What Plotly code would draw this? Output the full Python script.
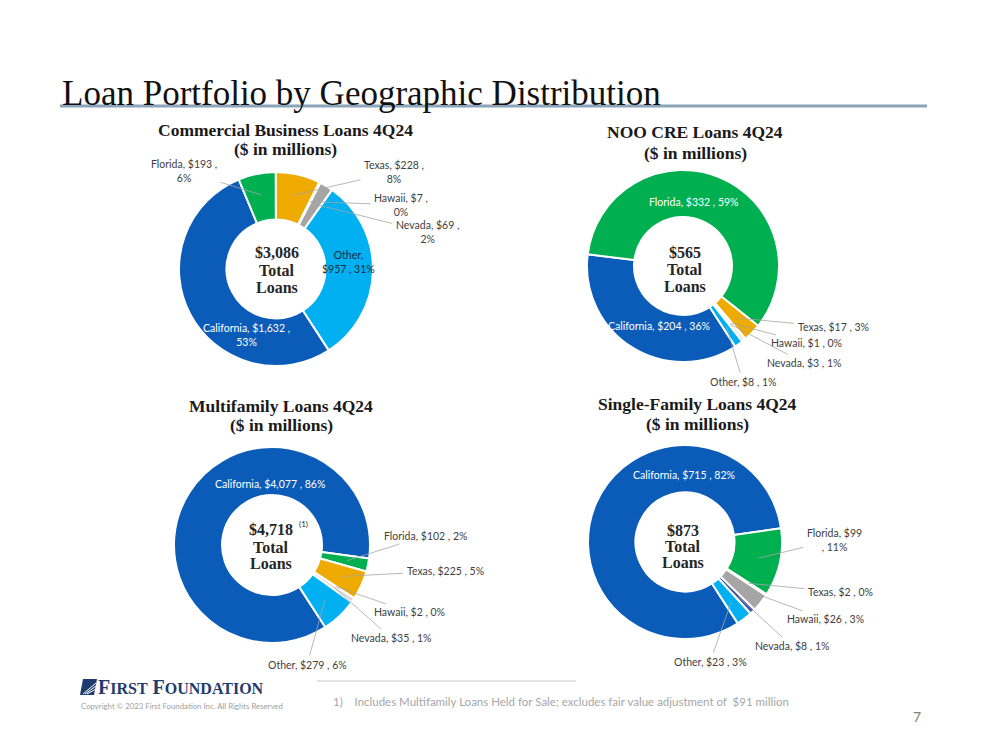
import math
import plotly.graph_objects as go

W, H = 999, 750

# ---------------- data ----------------
regions = ["California", "Florida", "Texas", "Hawaii", "Nevada", "Other"]

commercial_values = [1632, 193, 228, 7, 69, 957]
commercial_pcts = [53, 6, 8, 0, 2, 31]

noo_values = [204, 332, 17, 1, 3, 8]
noo_pcts = [36, 59, 3, 0, 1, 1]

multifamily_values = [4077, 102, 225, 2, 35, 279]
multifamily_pcts = [86, 2, 5, 0, 1, 6]

singlefamily_values = [715, 99, 2, 26, 8, 23]
singlefamily_pcts = [82, 11, 0, 3, 1, 3]

chart_totals = [3086, 565, 4718, 873]   # as reported (rounded components)

chart_titles = ["Commercial Business Loans 4Q24", "NOO CRE Loans 4Q24",
                "Multifamily Loans 4Q24", "Single-Family Loans 4Q24"]
subtitle = "($ in millions)"
page_title = "Loan Portfolio by Geographic Distribution"
footnote = "1)    Includes Multifamily Loans Held for Sale; excludes fair value adjustment of  $91 million"
copyright_text = "Copyright © 2023 First Foundation Inc. All Rights Reserved"
page_number = "7"

# ---------------- style ----------------
BASE_COLORS = {"California": "#0A5CB8", "Florida": "#00B050", "Texas": "#EFAA00",
               "Hawaii": "#A5A5A5", "Nevada": "#3A50A0", "Other": "#00B0F0"}
LABEL_FONT = "Lato"
SERIF = "Liberation Serif"
OUT_COLOR = "#404040"
LEADER = "#A6A6A6"
ROTATION = 147
HOLE = 0.51

charts = [
    dict(values=commercial_values, pcts=commercial_pcts, total=chart_totals[0], title=chart_titles[0],
         center=(276, 269), R=97, title_x=285, title_y=(130, 149),
         ctr_x=277, ctr_y=(253, 270, 287), sup=None,
         colors={"Hawaii": "#3A50A0", "Nevada": "#A5A5A5"},
         labels={"California": ("in", 246, 335, "pct", "white"),
                 "Florida": ("out", 184, 171, "pct", OUT_COLOR),
                 "Texas": ("out", 394, 172, "pct", OUT_COLOR),
                 "Hawaii": ("out", 401, 205, "pct", OUT_COLOR),
                 "Nevada": ("out", 427, 232, "pct", OUT_COLOR),
                 "Other": ("in", 348, 262, "name", "#1F2A44")}),
    dict(values=noo_values, pcts=noo_pcts, total=chart_totals[1], title=chart_titles[1],
         center=(683, 266), R=96, title_x=695, title_y=(132, 153),
         ctr_x=685, ctr_y=(252, 269, 286), sup=None,
         colors={"Nevada": "#D9D9D9"},
         labels={"California": ("in", 659, 326, "none", "white"),
                 "Florida": ("in", 694, 202, "none", "white"),
                 "Texas": ("out", 833, 327, "none", OUT_COLOR),
                 "Hawaii": ("out", 806, 343, "none", OUT_COLOR),
                 "Nevada": ("out", 804, 363, "none", OUT_COLOR),
                 "Other": ("out", 743, 382, "none", OUT_COLOR)}),
    dict(values=multifamily_values, pcts=multifamily_pcts, total=chart_totals[2], title=chart_titles[2],
         center=(272, 545), R=98, title_x=281, title_y=(406, 425),
         ctr_x=271, ctr_y=(529, 547, 563), sup=(303, 524),
         colors={"Nevada": "#D9D9D9"},
         labels={"California": ("in", 270, 484, "none", "white"),
                 "Florida": ("out", 425, 536, "none", OUT_COLOR),
                 "Texas": ("out", 445, 571, "none", OUT_COLOR),
                 "Hawaii": ("out", 409, 612, "none", OUT_COLOR),
                 "Nevada": ("out", 391, 638, "none", OUT_COLOR),
                 "Other": ("out", 307, 665, "none", OUT_COLOR)}),
    dict(values=singlefamily_values, pcts=singlefamily_pcts, total=chart_totals[3], title=chart_titles[3],
         center=(685, 542), R=97, title_x=697, title_y=(404, 424),
         ctr_x=683, ctr_y=(530, 546, 562), sup=None,
         colors={},
         labels={"California": ("in", 684, 475, "none", "white"),
                 "Florida": ("out", 834, 540, "value", OUT_COLOR),
                 "Texas": ("out", 840, 592, "none", OUT_COLOR),
                 "Hawaii": ("out", 825, 619, "none", OUT_COLOR),
                 "Nevada": ("out", 792, 646, "none", OUT_COLOR),
                 "Other": ("out", 710, 662, "none", OUT_COLOR)}),
]


def px(x):
    return x / W


def py(y):
    return 1 - y / H


def label_text(r, v, p, mode):
    if mode == "pct":
        return f"{r}, ${v:,} ,<br>{p}%"
    if mode == "name":
        return f"{r},<br>${v:,} , {p}%"
    if mode == "value":
        return f"{r}, ${v:,}<br>, {p}%"
    return f"{r}, ${v:,} , {p}%"


fig = go.Figure()
annotations = []
shapes = []

for ch in charts:
    cx, cy = ch["center"]
    R = ch["R"]
    cols = [ch["colors"].get(r, BASE_COLORS[r]) for r in regions]
    fig.add_trace(go.Pie(
        labels=regions, values=ch["values"], hole=HOLE, sort=False,
        direction="clockwise", rotation=ROTATION, textinfo="none",
        marker=dict(colors=cols, line=dict(color="white", width=2)),
        domain=dict(x=[px(cx - R), px(cx + R)], y=[py(cy + R), py(cy - R)]),
        showlegend=False, hoverinfo="label+value+percent",
    ))
    sum_vals = sum(ch["values"])
    # titles
    for line, yy in zip([ch["title"], subtitle], ch["title_y"]):
        annotations.append(dict(x=px(ch["title_x"]), y=py(yy), xref="paper", yref="paper",
                                text=f"<b>{line}</b>", showarrow=False,
                                xanchor="center", yanchor="middle",
                                font=dict(family=SERIF, size=17.5, color="#1A1A1A")))
    # centre total
    for line, yy in zip([f"${ch['total']:,}", "Total", "Loans"], ch["ctr_y"]):
        annotations.append(dict(x=px(ch["ctr_x"]), y=py(yy), xref="paper", yref="paper",
                                text=f"<b>{line}</b>", showarrow=False,
                                xanchor="center", yanchor="middle",
                                font=dict(family=SERIF, size=16, color="#262626")))
    if ch["sup"]:
        annotations.append(dict(x=px(ch["sup"][0]), y=py(ch["sup"][1]), xref="paper", yref="paper",
                                text="(1)", showarrow=False, xanchor="center", yanchor="middle",
                                font=dict(family=LABEL_FONT, size=8, color="#262626")))
    # slice labels
    cum = 0
    for r, v, p in zip(regions, ch["values"], ch["pcts"]):
        mid = ROTATION + (cum + v / 2) / sum_vals * 360
        cum += v
        kind, tx, ty, mode, color = ch["labels"][r]
        txt = label_text(r, v, p, mode)
        font = dict(family=LABEL_FONT, size=10.5, color=color)
        if kind == "in":
            annotations.append(dict(x=px(tx), y=py(ty), xref="paper", yref="paper",
                                    text=txt, showarrow=False, align="center",
                                    xanchor="center", yanchor="middle", font=font))
        else:
            a = math.radians(mid)
            hx = cx + 0.78 * R * math.sin(a)
            hy = cy - 0.78 * R * math.cos(a)
            annotations.append(dict(x=px(hx), y=py(hy), xref="paper", yref="paper",
                                    text=txt, showarrow=True, arrowhead=0, arrowwidth=0.8,
                                    arrowcolor=LEADER, standoff=0, startstandoff=2,
                                    ax=tx - hx, ay=ty - hy, align="center", font=font))

# page title and rule
annotations.append(dict(x=px(60), y=py(93), xref="paper", yref="paper", text=page_title,
                        showarrow=False, xanchor="left", yanchor="middle",
                        font=dict(family=SERIF, size=35, color="#111111")))
shapes.append(dict(type="line", xref="paper", yref="paper", x0=px(60), x1=px(927),
                   y0=py(106), y1=py(106), line=dict(color="#8AA4BC", width=3)))

# footer
shapes.append(dict(type="line", xref="paper", yref="paper", x0=px(317), x1=px(576),
                   y0=py(681), y1=py(681), line=dict(color="#C8C8C8", width=1)))
shapes.append(dict(type="path", xref="paper", yref="paper",
                   path=f"M {px(80)},{py(695)} L {px(83)},{py(679)} L {px(97)},{py(679)} L {px(94)},{py(695)} Z",
                   fillcolor="#1F3C6E", line=dict(width=0)))
for k in range(3):
    shapes.append(dict(type="line", xref="paper", yref="paper",
                       x0=px(83 + k * 2), y0=py(694), x1=px(96), y1=py(683 + k * 3),
                       line=dict(color="white", width=1)))
annotations.append(dict(x=px(96), y=py(687), xref="paper", yref="paper",
                        text="<b>F<span style='font-size:16px'>IRST</span> F<span style='font-size:16px'>OUNDATION</span></b>",
                        showarrow=False, xanchor="left", yanchor="middle",
                        font=dict(family=SERIF, size=20, color="#1F3C6E")))
annotations.append(dict(x=px(79), y=py(706), xref="paper", yref="paper", text=copyright_text,
                        showarrow=False, xanchor="left", yanchor="middle",
                        font=dict(family=LABEL_FONT, size=7.8, color="#A0A0A0")))
annotations.append(dict(x=px(331), y=py(701), xref="paper", yref="paper", text=footnote,
                        showarrow=False, xanchor="left", yanchor="middle",
                        font=dict(family=LABEL_FONT, size=11.5, color="#A6A6A6")))
annotations.append(dict(x=px(917), y=py(716), xref="paper", yref="paper", text=page_number,
                        showarrow=False, xanchor="center", yanchor="middle",
                        font=dict(family=LABEL_FONT, size=14, color="#808080")))

fig.update_layout(width=W, height=H, margin=dict(l=0, r=0, t=0, b=0),
                  paper_bgcolor="white", plot_bgcolor="white",
                  annotations=annotations, shapes=shapes)
fig.write_html("out.html")
